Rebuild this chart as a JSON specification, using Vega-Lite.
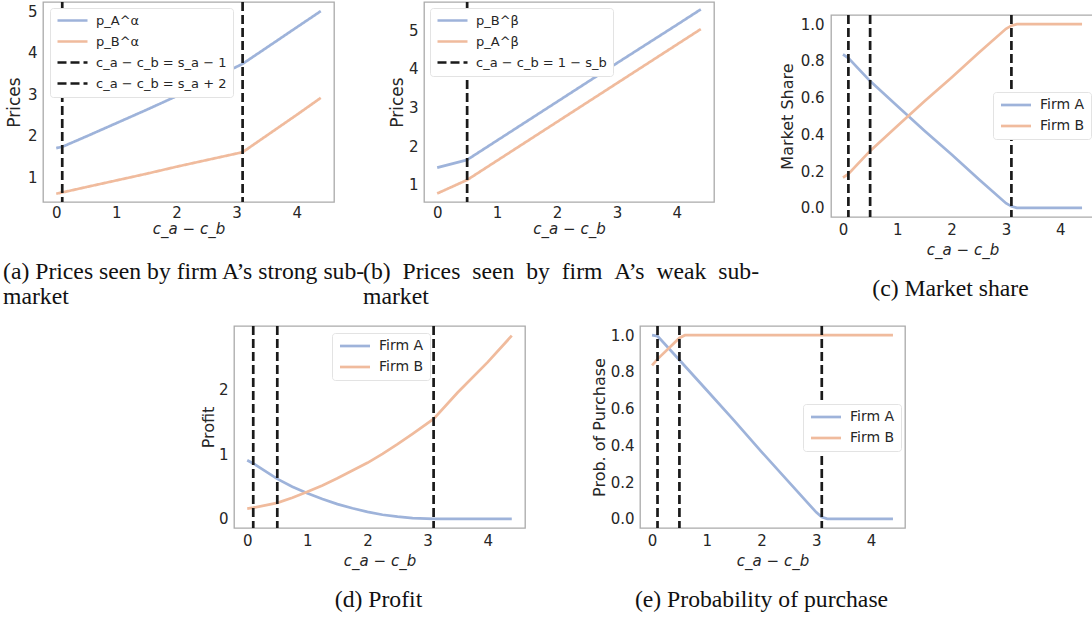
{
  "$schema": "https://vega.github.io/schema/vega-lite/v6.json",
  "padding": {"left": 2, "top": 0, "right": 0, "bottom": 0},
  "autosize": {"type": "pad"},
  "config": {
    "view": {"stroke": "#aaaaaa", "strokeWidth": 1.3},
    "font": "DejaVu Sans",
    "axis": {"grid": false, "ticks": false, "domain": false, "labelFont": "DejaVu Sans", "labelFontSize": 15, "labelColor": "#262626", "titleFont": "DejaVu Sans", "titleFontSize": 16, "titleFontWeight": "normal", "titleColor": "#262626", "labelOverlap": false, "labelFlush": false},
    "legend": {"padding": 6, "fillColor": "#ffffff", "strokeColor": "#e3e3e3", "cornerRadius": 3, "labelFont": "DejaVu Sans", "labelFontSize": 14, "labelColor": "#262626", "rowPadding": 7, "symbolSize": 100, "symbolStrokeWidth": 2.7, "labelOffset": 27},
    "title": {"font": "Liberation Serif", "fontSize": 23.7, "fontWeight": "normal", "color": "#111111", "lineHeight": 25, "orient": "bottom"}
  },
  "datasets": {
    "pa": [
      {"series": "p_A^α", "x": 0, "y": 1.70}, {"series": "p_A^α", "x": 0.1, "y": 1.73}, {"series": "p_A^α", "x": 0.5, "y": 1.98}, {"series": "p_A^α", "x": 1, "y": 2.30}, {"series": "p_A^α", "x": 1.5, "y": 2.62}, {"series": "p_A^α", "x": 2, "y": 2.95}, {"series": "p_A^α", "x": 2.5, "y": 3.30}, {"series": "p_A^α", "x": 3.1, "y": 3.73}, {"series": "p_A^α", "x": 3.5, "y": 4.12}, {"series": "p_A^α", "x": 4, "y": 4.61}, {"series": "p_A^α", "x": 4.4, "y": 5.0},
      {"series": "p_B^α", "x": 0, "y": 0.60}, {"series": "p_B^α", "x": 0.1, "y": 0.63}, {"series": "p_B^α", "x": 0.5, "y": 0.76}, {"series": "p_B^α", "x": 1, "y": 0.92}, {"series": "p_B^α", "x": 1.5, "y": 1.08}, {"series": "p_B^α", "x": 2, "y": 1.25}, {"series": "p_B^α", "x": 2.5, "y": 1.41}, {"series": "p_B^α", "x": 3.1, "y": 1.60}, {"series": "p_B^α", "x": 3.5, "y": 2.0}, {"series": "p_B^α", "x": 4, "y": 2.5}, {"series": "p_B^α", "x": 4.4, "y": 2.91}
    ],
    "va": [
      {"series": "c_a − c_b = s_a − 1", "x": 0.1},
      {"series": "c_a − c_b = s_a + 2", "x": 3.1}
    ],
    "pb": [
      {"series": "p_B^β", "x": 0, "y": 1.45}, {"series": "p_B^β", "x": 0.5, "y": 1.65}, {"series": "p_B^β", "x": 1, "y": 2.15}, {"series": "p_B^β", "x": 2, "y": 3.15}, {"series": "p_B^β", "x": 3, "y": 4.15}, {"series": "p_B^β", "x": 4, "y": 5.14}, {"series": "p_B^β", "x": 4.4, "y": 5.54},
      {"series": "p_A^β", "x": 0, "y": 0.78}, {"series": "p_A^β", "x": 0.5, "y": 1.13}, {"series": "p_A^β", "x": 1, "y": 1.63}, {"series": "p_A^β", "x": 2, "y": 2.63}, {"series": "p_A^β", "x": 3, "y": 3.63}, {"series": "p_A^β", "x": 4, "y": 4.63}, {"series": "p_A^β", "x": 4.4, "y": 5.03}
    ],
    "vb": [
      {"series": "c_a − c_b = 1 − s_b", "x": 0.5}
    ],
    "pc": [
      {"series": "Firm A", "x": 0, "y": 0.835}, {"series": "Firm A", "x": 0.1, "y": 0.815}, {"series": "Firm A", "x": 0.5, "y": 0.69}, {"series": "Firm A", "x": 1, "y": 0.555}, {"series": "Firm A", "x": 1.5, "y": 0.42}, {"series": "Firm A", "x": 2, "y": 0.29}, {"series": "Firm A", "x": 2.5, "y": 0.155}, {"series": "Firm A", "x": 3, "y": 0.025}, {"series": "Firm A", "x": 3.1, "y": 0.008}, {"series": "Firm A", "x": 3.2, "y": 0}, {"series": "Firm A", "x": 4.4, "y": 0},
      {"series": "Firm B", "x": 0, "y": 0.165}, {"series": "Firm B", "x": 0.1, "y": 0.185}, {"series": "Firm B", "x": 0.5, "y": 0.31}, {"series": "Firm B", "x": 1, "y": 0.445}, {"series": "Firm B", "x": 1.5, "y": 0.58}, {"series": "Firm B", "x": 2, "y": 0.71}, {"series": "Firm B", "x": 2.5, "y": 0.845}, {"series": "Firm B", "x": 3, "y": 0.975}, {"series": "Firm B", "x": 3.1, "y": 0.992}, {"series": "Firm B", "x": 3.2, "y": 1}, {"series": "Firm B", "x": 4.4, "y": 1}
    ],
    "pd": [
      {"series": "Firm A", "x": 0, "y": 0.91}, {"series": "Firm A", "x": 0.1, "y": 0.86}, {"series": "Firm A", "x": 0.5, "y": 0.62}, {"series": "Firm A", "x": 0.75, "y": 0.50}, {"series": "Firm A", "x": 1, "y": 0.40}, {"series": "Firm A", "x": 1.25, "y": 0.31}, {"series": "Firm A", "x": 1.5, "y": 0.23}, {"series": "Firm A", "x": 1.75, "y": 0.165}, {"series": "Firm A", "x": 2, "y": 0.11}, {"series": "Firm A", "x": 2.25, "y": 0.065}, {"series": "Firm A", "x": 2.5, "y": 0.035}, {"series": "Firm A", "x": 2.75, "y": 0.012}, {"series": "Firm A", "x": 3.1, "y": 0.0}, {"series": "Firm A", "x": 4.4, "y": 0.0},
      {"series": "Firm B", "x": 0, "y": 0.16}, {"series": "Firm B", "x": 0.1, "y": 0.175}, {"series": "Firm B", "x": 0.5, "y": 0.25}, {"series": "Firm B", "x": 0.75, "y": 0.33}, {"series": "Firm B", "x": 1, "y": 0.42}, {"series": "Firm B", "x": 1.25, "y": 0.52}, {"series": "Firm B", "x": 1.5, "y": 0.63}, {"series": "Firm B", "x": 1.75, "y": 0.75}, {"series": "Firm B", "x": 2, "y": 0.87}, {"series": "Firm B", "x": 2.25, "y": 1.01}, {"series": "Firm B", "x": 2.5, "y": 1.16}, {"series": "Firm B", "x": 2.75, "y": 1.32}, {"series": "Firm B", "x": 3.1, "y": 1.55}, {"series": "Firm B", "x": 3.5, "y": 1.96}, {"series": "Firm B", "x": 4, "y": 2.43}, {"series": "Firm B", "x": 4.4, "y": 2.84}
    ],
    "pe": [
      {"series": "Firm A", "x": 0, "y": 1.0}, {"series": "Firm A", "x": 0.1, "y": 0.995}, {"series": "Firm A", "x": 0.5, "y": 0.865}, {"series": "Firm A", "x": 1, "y": 0.70}, {"series": "Firm A", "x": 1.5, "y": 0.535}, {"series": "Firm A", "x": 2, "y": 0.365}, {"series": "Firm A", "x": 2.5, "y": 0.2}, {"series": "Firm A", "x": 3, "y": 0.035}, {"series": "Firm A", "x": 3.1, "y": 0.01}, {"series": "Firm A", "x": 3.2, "y": 0}, {"series": "Firm A", "x": 4.4, "y": 0},
      {"series": "Firm B", "x": 0, "y": 0.835}, {"series": "Firm B", "x": 0.1, "y": 0.87}, {"series": "Firm B", "x": 0.5, "y": 0.985}, {"series": "Firm B", "x": 0.6, "y": 1.0}, {"series": "Firm B", "x": 4.4, "y": 1.0}
    ],
    "v3": [
      {"x": 0.1}, {"x": 0.5}, {"x": 3.1}
    ]
  },
  "vconcat": [
    {
      "hconcat": [
        {
          "width": 291, "height": 200,
          "view": {"stroke": "#aaaaaa"},
          "title": {"text": ["(a) Prices seen by firm A’s strong sub-", "market"], "anchor": "start", "frame": "group", "dx": -40, "offset": 24},
          "layer": [
            {
              "data": {"name": "pa"},
              "mark": {"type": "line", "strokeWidth": 2.7},
              "encoding": {
                "x": {"field": "x", "type": "quantitative", "scale": {"domain": [-0.22, 4.62], "nice": false, "zero": false}, "axis": {"values": [0, 1, 2, 3, 4], "format": "d", "title": "c_a − c_b", "titleFontStyle": "italic", "titleFontSize": 15, "labelPadding": 3, "titlePadding": 1}},
                "y": {"field": "y", "type": "quantitative", "scale": {"domain": [0.40, 5.22], "nice": false, "zero": false}, "axis": {"values": [1, 2, 3, 4, 5], "format": "d", "title": "Prices", "titleFontSize": 17, "labelPadding": 6, "titlePadding": 4}},
                "color": {"field": "series", "type": "nominal", "scale": {"domain": ["p_A^α", "p_B^α", "c_a − c_b = s_a − 1", "c_a − c_b = s_a + 2"], "range": ["#9eb3da", "#f0bb9d", "#1a1a1a", "#1a1a1a"]}, "legend": {"title": null, "orient": "none", "legendX": 7, "legendY": 6, "symbolType": "M-1,0L5,0", "labelFontSize": 13}},
                "strokeDash": {"field": "series", "type": "nominal", "scale": {"domain": ["p_A^α", "p_B^α", "c_a − c_b = s_a − 1", "c_a − c_b = s_a + 2"], "range": [[1, 0], [1, 0], [9, 4], [9, 4]]}, "legend": {"title": null, "orient": "none", "legendX": 7, "legendY": 6, "symbolType": "M-1,0L5,0", "labelFontSize": 13}}
              }
            },
            {
              "data": {"name": "va"},
              "mark": {"type": "rule", "strokeWidth": 2.7},
              "encoding": {
                "x": {"field": "x", "type": "quantitative"},
                "color": {"field": "series", "type": "nominal"},
                "strokeDash": {"field": "series", "type": "nominal"}
              }
            }
          ]
        },
        {"width": 90, "height": 1, "view": {"stroke": null}, "data": {"values": []}, "mark": "point"},
        {
          "width": 290, "height": 200,
          "view": {"stroke": "#aaaaaa"},
          "title": {"text": ["(b) \u2005Prices \u2005seen \u2005by \u2005firm \u2005A’s \u2005weak \u2005sub-", "market"], "anchor": "start", "frame": "group", "dx": -61, "offset": 24},
          "layer": [
            {
              "data": {"name": "pb"},
              "mark": {"type": "line", "strokeWidth": 2.7},
              "encoding": {
                "x": {"field": "x", "type": "quantitative", "scale": {"domain": [-0.22, 4.62], "nice": false, "zero": false}, "axis": {"values": [0, 1, 2, 3, 4], "format": "d", "title": "c_a − c_b", "titleFontStyle": "italic", "titleFontSize": 15, "labelPadding": 3, "titlePadding": 1}},
                "y": {"field": "y", "type": "quantitative", "scale": {"domain": [0.56, 5.73], "nice": false, "zero": false}, "axis": {"values": [1, 2, 3, 4, 5], "format": "d", "title": "Prices", "titleFontSize": 17, "labelPadding": 6, "titlePadding": 2}},
                "color": {"field": "series", "type": "nominal", "scale": {"domain": ["p_B^β", "p_A^β", "c_a − c_b = 1 − s_b"], "range": ["#9eb3da", "#f0bb9d", "#1a1a1a"]}, "legend": {"title": null, "orient": "none", "legendX": 6, "legendY": 6, "symbolType": "M-1,0L5,0", "labelFontSize": 13}},
                "strokeDash": {"field": "series", "type": "nominal", "scale": {"domain": ["p_B^β", "p_A^β", "c_a − c_b = 1 − s_b"], "range": [[1, 0], [1, 0], [9, 4]]}, "legend": {"title": null, "orient": "none", "legendX": 6, "legendY": 6, "symbolType": "M-1,0L5,0", "labelFontSize": 13}}
              }
            },
            {
              "data": {"name": "vb"},
              "mark": {"type": "rule", "strokeWidth": 2.7},
              "encoding": {
                "x": {"field": "x", "type": "quantitative"},
                "color": {"field": "series", "type": "nominal"},
                "strokeDash": {"field": "series", "type": "nominal"}
              }
            }
          ]
        },
        {"width": 117, "height": 1, "view": {"stroke": null}, "data": {"values": []}, "mark": "point"},
        {
          "vconcat": [
            {"width": 1, "height": 1, "view": {"stroke": null}, "data": {"values": []}, "mark": "point"},
            {
              "width": 263, "height": 202,
              "view": {"stroke": "#aaaaaa"},
              "title": {"text": "(c) Market share", "anchor": "middle", "frame": "group", "dx": -12, "offset": 20},
              "layer": [
                {
                  "data": {"name": "pc"},
                  "mark": {"type": "line", "strokeWidth": 2.7},
                  "encoding": {
                    "x": {"field": "x", "type": "quantitative", "scale": {"domain": [-0.22, 4.62], "nice": false, "zero": false}, "axis": {"values": [0, 1, 2, 3, 4], "format": "d", "title": "c_a − c_b", "titleFontStyle": "italic", "titleFontSize": 15, "labelPadding": 5, "titlePadding": 5}},
                    "y": {"field": "y", "type": "quantitative", "scale": {"domain": [-0.05, 1.05], "nice": false, "zero": false}, "axis": {"values": [0, 0.2, 0.4, 0.6, 0.8, 1.0], "format": ".1f", "title": "Market Share", "labelPadding": 7, "titlePadding": 5}},
                    "color": {"field": "series", "type": "nominal", "scale": {"domain": ["Firm A", "Firm B"], "range": ["#9eb3da", "#f0bb9d"]}, "legend": {"title": null, "orient": "none", "legendX": 162, "legendY": 77, "symbolType": "M-1,0L5,0"}}
                  }
                },
                {
                  "data": {"name": "v3"},
                  "mark": {"type": "rule", "strokeWidth": 2.7, "color": "#1a1a1a", "strokeDash": [9, 4]},
                  "encoding": {"x": {"field": "x", "type": "quantitative"}}
                }
              ]
            }
          ],
          "bounds": "flush",
          "spacing": 12,
          "resolve": {"scale": {"x": "independent", "y": "independent", "color": "independent"}, "legend": {"color": "independent"}}
        }
      ],
      "bounds": "flush",
      "spacing": 0,
      "resolve": {"scale": {"x": "independent", "y": "independent", "color": "independent", "strokeDash": "independent"}, "legend": {"color": "independent", "strokeDash": "independent"}}
    },
    {
      "hconcat": [
        {"width": 191, "height": 1, "view": {"stroke": null}, "data": {"values": []}, "mark": "point"},
        {
          "width": 291, "height": 202,
          "view": {"stroke": "#aaaaaa"},
          "title": {"text": "(d) Profit", "anchor": "middle", "frame": "group", "dx": -1, "offset": 20},
          "layer": [
            {
              "data": {"name": "pd"},
              "mark": {"type": "line", "strokeWidth": 2.7},
              "encoding": {
                "x": {"field": "x", "type": "quantitative", "scale": {"domain": [-0.22, 4.62], "nice": false, "zero": false}, "axis": {"values": [0, 1, 2, 3, 4], "format": "d", "title": "c_a − c_b", "titleFontStyle": "italic", "titleFontSize": 15, "labelPadding": 5, "titlePadding": 5}},
                "y": {"field": "y", "type": "quantitative", "scale": {"domain": [-0.14, 2.99], "nice": false, "zero": false}, "axis": {"values": [0, 1, 2], "format": "d", "title": "Profit", "labelPadding": 6, "titlePadding": 2}},
                "color": {"field": "series", "type": "nominal", "scale": {"domain": ["Firm A", "Firm B"], "range": ["#9eb3da", "#f0bb9d"]}, "legend": {"title": null, "orient": "none", "legendX": 98, "legendY": 7, "symbolType": "M-1,0L5,0"}}
              }
            },
            {
              "data": {"name": "v3"},
              "mark": {"type": "rule", "strokeWidth": 2.7, "color": "#1a1a1a", "strokeDash": [9, 4]},
              "encoding": {"x": {"field": "x", "type": "quantitative"}}
            }
          ]
        },
        {"width": 115, "height": 1, "view": {"stroke": null}, "data": {"values": []}, "mark": "point"},
        {
          "width": 265, "height": 202,
          "view": {"stroke": "#aaaaaa"},
          "title": {"text": "(e) Probability of purchase", "anchor": "middle", "frame": "group", "dx": -11, "offset": 20},
          "layer": [
            {
              "data": {"name": "pe"},
              "mark": {"type": "line", "strokeWidth": 2.7},
              "encoding": {
                "x": {"field": "x", "type": "quantitative", "scale": {"domain": [-0.22, 4.62], "nice": false, "zero": false}, "axis": {"values": [0, 1, 2, 3, 4], "format": "d", "title": "c_a − c_b", "titleFontStyle": "italic", "titleFontSize": 15, "labelPadding": 5, "titlePadding": 5}},
                "y": {"field": "y", "type": "quantitative", "scale": {"domain": [-0.05, 1.05], "nice": false, "zero": false}, "axis": {"values": [0, 0.2, 0.4, 0.6, 0.8, 1.0], "format": ".1f", "title": "Prob. of Purchase", "labelPadding": 6, "titlePadding": 3}},
                "color": {"field": "series", "type": "nominal", "scale": {"domain": ["Firm A", "Firm B"], "range": ["#9eb3da", "#f0bb9d"]}, "legend": {"title": null, "orient": "none", "legendX": 163, "legendY": 78, "symbolType": "M-1,0L5,0"}}
              }
            },
            {
              "data": {"name": "v3"},
              "mark": {"type": "rule", "strokeWidth": 2.7, "color": "#1a1a1a", "strokeDash": [9, 4]},
              "encoding": {"x": {"field": "x", "type": "quantitative"}}
            }
          ]
        }
      ],
      "bounds": "flush",
      "spacing": 0,
      "resolve": {"scale": {"x": "independent", "y": "independent", "color": "independent"}, "legend": {"color": "independent"}}
    }
  ],
  "bounds": "flush",
  "spacing": 324,
  "resolve": {"scale": {"x": "independent", "y": "independent", "color": "independent", "strokeDash": "independent"}, "legend": {"color": "independent", "strokeDash": "independent"}}
}
